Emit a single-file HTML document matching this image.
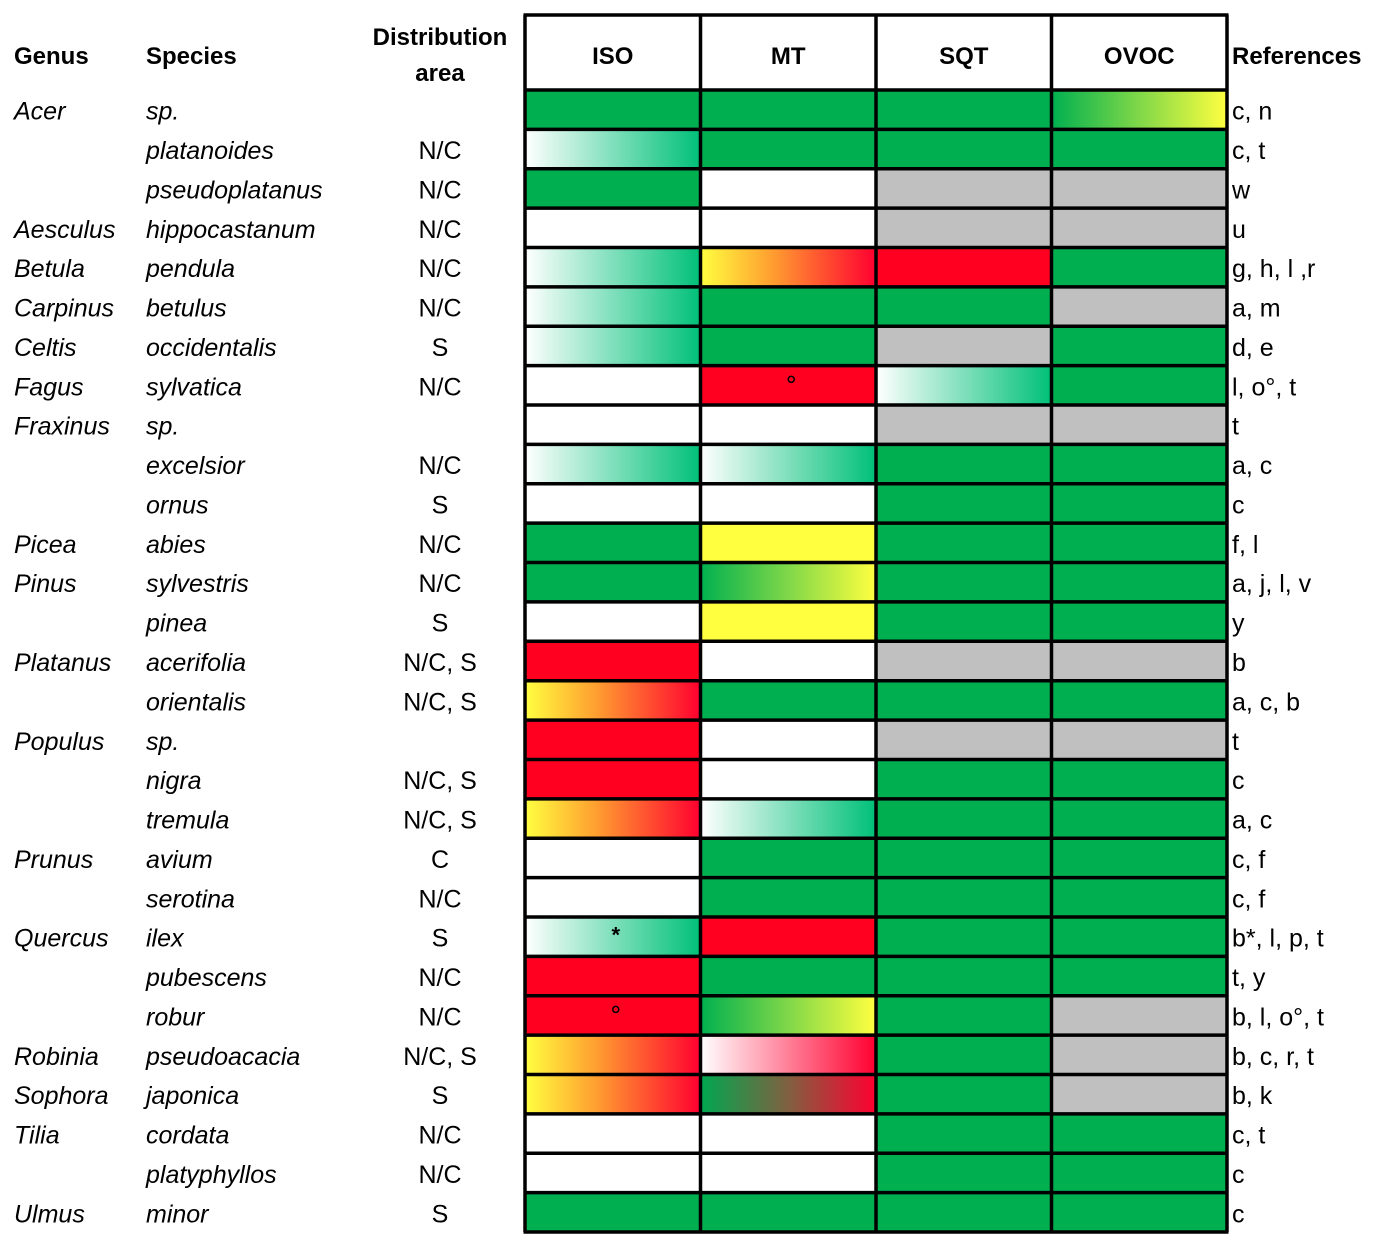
<!DOCTYPE html>
<html><head><meta charset="utf-8">
<style>
html,body{margin:0;padding:0;background:#fff;}
svg{display:block;font-family:"Liberation Sans",sans-serif;}
</style></head>
<body>
<svg id="chart" width="1374" height="1241" viewBox="0 0 1374 1241">
<defs>
<linearGradient id="wg" x1="0" x2="1"><stop offset="0" stop-color="#ffffff"/><stop offset="1" stop-color="#00c078"/></linearGradient>
<linearGradient id="yr" x1="0" x2="1"><stop offset="0" stop-color="#ffff40"/><stop offset="0.4" stop-color="#ffa030"/><stop offset="1" stop-color="#ff0030"/></linearGradient>
<linearGradient id="gy" x1="0" x2="1"><stop offset="0" stop-color="#00b050"/><stop offset="1" stop-color="#ffff40"/></linearGradient>
<linearGradient id="wr" x1="0" x2="1"><stop offset="0" stop-color="#ffffff"/><stop offset="1" stop-color="#ff0030"/></linearGradient>
<linearGradient id="gr" x1="0" x2="1"><stop offset="0" stop-color="#00a850"/><stop offset="0.5" stop-color="#806040"/><stop offset="1" stop-color="#ff0030"/></linearGradient>
</defs>
<g id="headers" font-weight="bold" font-size="24" fill="#000">
<text x="14" y="64">Genus</text>
<text x="146" y="64">Species</text>
<text x="440" y="45" text-anchor="middle">Distribution</text>
<text x="440" y="81" text-anchor="middle">area</text>
<text x="1232" y="64">References</text>
</g>
<g id="grid"></g>
<g id="labels" font-size="25" fill="#000"></g>
</svg>
<script>
const columns = ["ISO","MT","SQT","OVOC"];
const genus = ["Acer","","","Aesculus","Betula","Carpinus","Celtis","Fagus","Fraxinus","","","Picea","Pinus","","Platanus","","Populus","","","Prunus","","Quercus","","","Robinia","Sophora","Tilia","","Ulmus"];
const species = ["sp.","platanoides","pseudoplatanus","hippocastanum","pendula","betulus","occidentalis","sylvatica","sp.","excelsior","ornus","abies","sylvestris","pinea","acerifolia","orientalis","sp.","nigra","tremula","avium","serotina","ilex","pubescens","robur","pseudoacacia","japonica","cordata","platyphyllos","minor"];
const distribution = ["","N/C","N/C","N/C","N/C","N/C","S","N/C","","N/C","S","N/C","N/C","S","N/C, S","N/C, S","","N/C, S","N/C, S","C","N/C","S","N/C","N/C","N/C, S","S","N/C","N/C","S"];
const references = ["c, n","c, t","w","u","g, h, l ,r","a, m","d, e","l, o°, t","t","a, c","c","f, l","a, j, l, v","y","b","a, c, b","t","c","a, c","c, f","c, f","b*, l, p, t","t, y","b, l, o°, t","b, c, r, t","b, k","c, t","c","c"];
const iso  = ["G","wg","G","W","wg","wg","wg","W","W","wg","W","G","G","W","R","yr","R","R","yr","W","W","wg","R","R","yr","yr","W","W","G"];
const mt   = ["G","G","W","W","yr","G","G","R","W","wg","W","Y","gy","Y","W","G","W","W","wg","G","G","R","G","gy","wr","gr","W","W","G"];
const sqt  = ["G","G","S","S","R","G","S","wg","S","G","G","G","G","G","S","G","S","G","G","G","G","G","G","G","G","G","G","G","G"];
const ovoc = ["gy","G","S","S","G","S","G","G","S","G","G","G","G","G","S","G","S","G","G","G","G","G","G","S","S","S","G","G","G"];
const marks = [{row:7,col:1,t:"o"},{row:21,col:0,t:"*"},{row:23,col:0,t:"o"}];

const NS="http://www.w3.org/2000/svg";
const X0=525, X1=1227, Y0=15, YH=90, Y1=1232;
const nRows=species.length, colW=(X1-X0)/columns.length, rowH=(Y1-YH)/nRows;
const xCol=i=>X0+i*colW, yRow=r=>YH+r*rowH;
const fills={G:"#00b050",W:"#ffffff",R:"#ff0020",Y:"#ffff40",S:"#c0c0c0",wg:"url(#wg)",yr:"url(#yr)",gy:"url(#gy)",wr:"url(#wr)",gr:"url(#gr)"};
const series=[iso,mt,sqt,ovoc];
const gridG=document.getElementById('grid'), labelsG=document.getElementById('labels');
function mk(tag,attrs,parent){const e=document.createElementNS(NS,tag);for(const k in attrs)e.setAttribute(k,attrs[k]);parent.appendChild(e);return e;}

columns.forEach((c,i)=>{
  const r=mk('rect',{x:xCol(i),y:Y0,width:colW,height:YH-Y0,fill:'#fff'},gridG);
  
  
  const t=mk('text',{x:xCol(i)+colW/2,y:64,'text-anchor':'middle','font-weight':'bold','font-size':24},gridG);
  t.textContent=c;
  
  
});
for(let r=0;r<nRows;r++){
  series.forEach((s,c)=>{
    const e=mk('rect',{x:xCol(c),y:yRow(r),width:colW,height:rowH,fill:fills[s[r]]},gridG);
    
    
  });
  const ty=yRow(r)+rowH/2+10;
  const g=mk('text',{x:14,y:ty,'font-style':'italic'},labelsG);g.textContent=genus[r];
  
  
  const sp=mk('text',{x:146,y:ty,'font-style':'italic'},labelsG);sp.textContent=species[r];
  
  
  const d=mk('text',{x:440,y:ty,'text-anchor':'middle'},labelsG);d.textContent=distribution[r];
  
  
  const rf=mk('text',{x:1232,y:ty},labelsG);rf.textContent=references[r];
  
  
}
marks.forEach(m=>{
  const cx=xCol(m.col)+colW/2, cy=yRow(m.row)+rowH/2;
  if(m.t==="o"){
    const e=mk('circle',{cx:cx+3,cy:cy-6,r:3,fill:'none',stroke:'#000','stroke-width':1.5},gridG);
    
    
  } else {
    const e=mk('text',{x:cx+3,y:cy+6,'text-anchor':'middle','font-size':22,'font-weight':'bold'},gridG);
    e.textContent="*";
    
    
  }
});
for(let i=0;i<=columns.length;i++){
  const l=mk('line',{x1:xCol(i),x2:xCol(i),y1:Y0,y2:Y1,stroke:'#000','stroke-width':3.5},gridG);
  
  
}
for(let r=0;r<=nRows;r++){
  const l=mk('line',{x1:X0-1.5,x2:X1+1.5,y1:yRow(r),y2:yRow(r),stroke:'#000','stroke-width':3.5},gridG);
  
  
}
const topBorder=mk('line',{x1:X0-1.5,x2:X1+1.5,y1:Y0,y2:Y0,stroke:'#000','stroke-width':3.5},gridG);


</script>
</body></html>
